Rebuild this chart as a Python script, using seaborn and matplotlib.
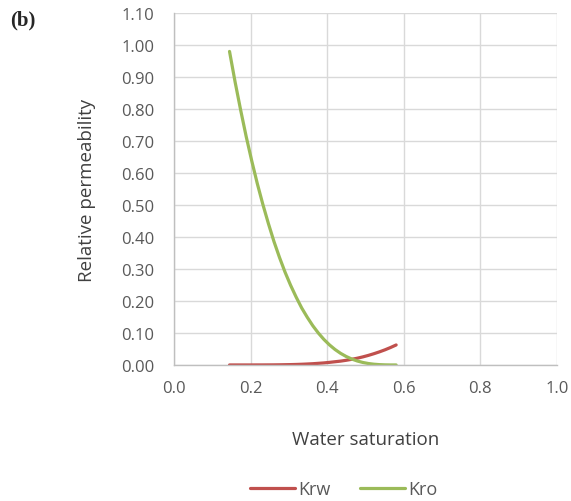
import matplotlib
matplotlib.use("Agg")
import matplotlib.pyplot as plt
import seaborn as sns
import pandas as pd

# Water saturation and relative permeability readings
sw = [0.1450, 0.1595, 0.1740, 0.1885, 0.2030, 0.2175, 0.2320, 0.2465,
      0.2610, 0.2755, 0.2900, 0.3045, 0.3190, 0.3335, 0.3480, 0.3625,
      0.3770, 0.3915, 0.4060, 0.4205, 0.4350, 0.4495, 0.4640, 0.4785,
      0.4930, 0.5075, 0.5220, 0.5365, 0.5510, 0.5655, 0.5800]
krw = [0.0, 0.0, 0.0, 0.0, 0.0, 0.0001, 0.0001, 0.0002,
       0.0003, 0.0005, 0.0008, 0.0011, 0.0016, 0.0022, 0.0030, 0.0039,
       0.0051, 0.0064, 0.0081, 0.0101, 0.0120, 0.0146, 0.0176, 0.0211,
       0.0252, 0.0299, 0.0352, 0.0410, 0.0474, 0.0546, 0.0625]
kro = [0.980, 0.885, 0.797, 0.714, 0.638, 0.567, 0.502, 0.442,
       0.386, 0.336, 0.290, 0.249, 0.212, 0.178, 0.149, 0.1225,
       0.0996, 0.0797, 0.0627, 0.0483, 0.0363, 0.0265, 0.0186, 0.0124,
       0.0078, 0.0045, 0.0023, 0.0010, 0.0003, 0.0, 0.0]

series_names = ["Krw", "Kro"]
series_colors = ["#C0504D", "#9BBB59"]
x_ticks = [0.0, 0.2, 0.4, 0.6, 0.8, 1.0]
y_ticks = [round(0.1 * i, 2) for i in range(12)]

df = pd.concat([
    pd.DataFrame({"Sw": sw, "kr": krw, "curve": series_names[0]}),
    pd.DataFrame({"Sw": sw, "kr": kro, "curve": series_names[1]}),
])

sns.set_style("white")
plt.rcParams["font.family"] = ["Open Sans", "DejaVu Sans"]

fig = plt.figure(figsize=(5.71, 5.02), dpi=100)
ax = fig.add_axes([0.3047, 0.271, 0.6708, 0.701])

sns.lineplot(data=df, x="Sw", y="kr", hue="curve", palette=series_colors,
             hue_order=series_names, linewidth=2.3, ax=ax, legend=False,
             sort=False, estimator=None)

ax.set_xlim(0, 1.0)
ax.set_ylim(0, 1.10)
ax.set_xticks(x_ticks)
ax.set_xticklabels([f"{t:.1f}" for t in x_ticks])
ax.set_yticks(y_ticks)
ax.set_yticklabels([f"{t:.2f}" for t in y_ticks])
ax.grid(True, color="#D9D9D9", linewidth=1.0)
ax.set_axisbelow(True)
for s in ["top", "right"]:
    ax.spines[s].set_visible(False)
for s in ["left", "bottom"]:
    ax.spines[s].set_color("#BFBFBF")
    ax.spines[s].set_linewidth(1.0)
ax.tick_params(axis="both", length=0, labelsize=12, labelcolor="#595959")
ax.tick_params(axis="y", pad=14)
ax.tick_params(axis="x", pad=11)

ax.set_xlabel("Water saturation", fontsize=13.5, color="#404040", labelpad=24)
ax.set_ylabel("Relative permeability", fontsize=13.5, color="#404040", labelpad=18)

handles = [plt.Line2D([0], [0], color=c, lw=2.3) for c in series_colors]
fig.legend(handles, series_names, loc="center", bbox_to_anchor=(0.602, 0.024),
           ncol=2, frameon=False, fontsize=13, handlelength=2.5,
           columnspacing=1.6, labelcolor="#595959", handletextpad=0.2)

fig.text(0.018, 0.96, "(b)", fontsize=15, fontweight="bold",
         family="Liberation Serif", va="center")

fig.savefig("out.png", dpi=100)
